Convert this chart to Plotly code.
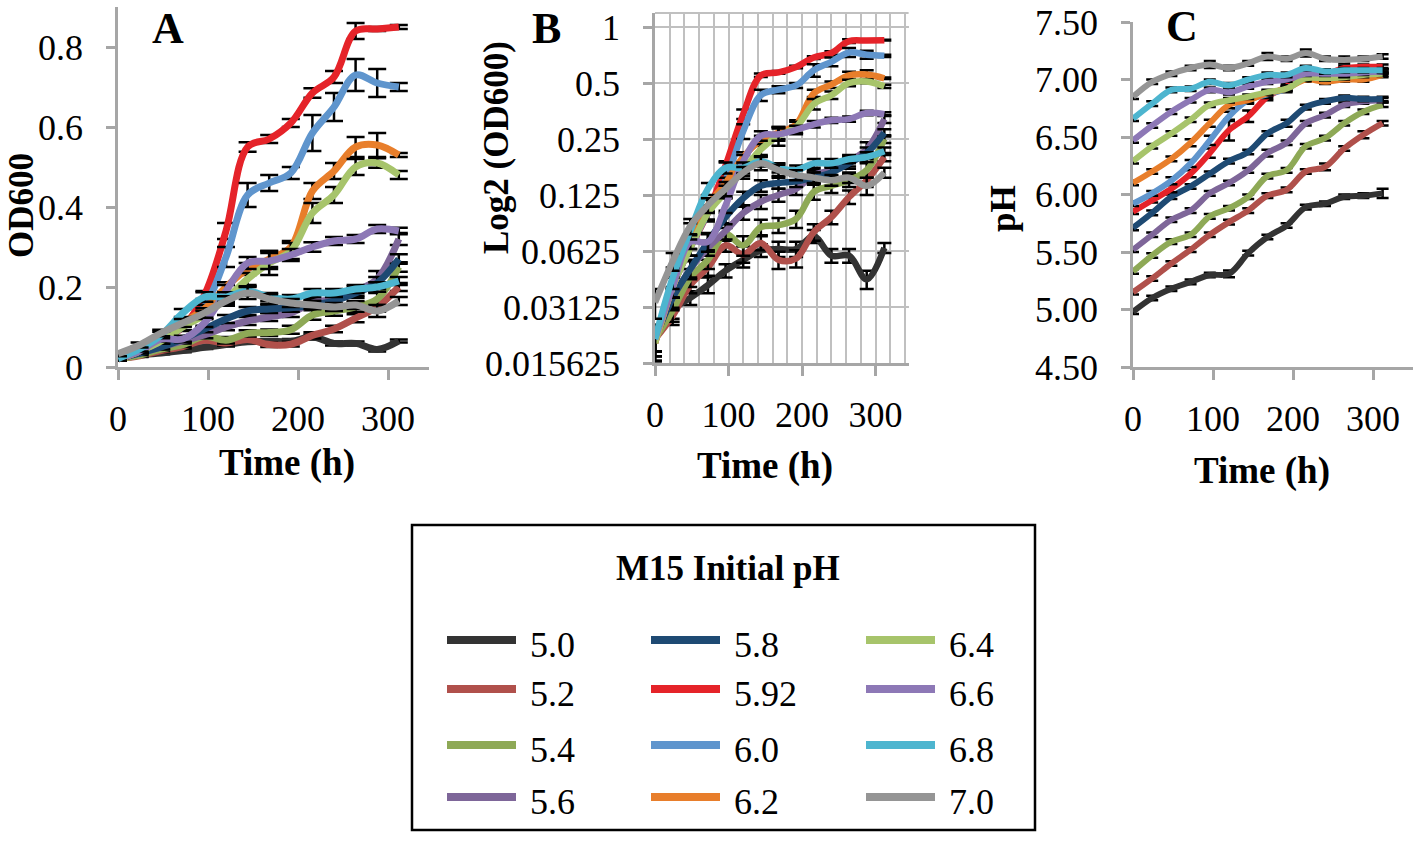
import plotly.graph_objects as go

W, H = 1418, 841

time_h = [0, 24, 48, 72, 96, 120, 144, 168, 192, 216, 240, 264, 288, 312]

ph_labels = ['5.0', '5.2', '5.4', '5.6', '5.8', '5.92', '6.0', '6.2', '6.4', '6.6', '6.8', '7.0']
colors = ['#333333', '#b0504b', '#8ea956', '#7e6699', '#1e4a73', '#e52329',
          '#5f95cd', '#e87e2b', '#a7c46b', '#8d78b6', '#4db5cf', '#959595']

# OD600 per initial pH (panels A and B share these)
od_50 = [0.021, 0.030, 0.035, 0.041, 0.049, 0.056, 0.063, 0.064, 0.064, 0.075, 0.059, 0.059, 0.044, 0.065]
od_52 = [0.021, 0.028, 0.041, 0.051, 0.067, 0.060, 0.069, 0.056, 0.057, 0.079, 0.095, 0.122, 0.150, 0.200]
od_54 = [0.021, 0.030, 0.045, 0.056, 0.077, 0.067, 0.084, 0.086, 0.093, 0.130, 0.140, 0.150, 0.170, 0.250]
od_56 = [0.021, 0.035, 0.050, 0.065, 0.080, 0.100, 0.115, 0.125, 0.135, 0.160, 0.170, 0.190, 0.220, 0.320]
od_58 = [0.021, 0.035, 0.050, 0.070, 0.095, 0.120, 0.140, 0.145, 0.148, 0.155, 0.165, 0.185, 0.210, 0.270]
od_592 = [0.020, 0.040, 0.065, 0.100, 0.180, 0.340, 0.550, 0.570, 0.610, 0.685, 0.725, 0.840, 0.845, 0.850]
od_60 = [0.020, 0.040, 0.065, 0.100, 0.150, 0.275, 0.430, 0.460, 0.485, 0.585, 0.650, 0.730, 0.710, 0.700]
od_62 = [0.020, 0.040, 0.070, 0.110, 0.145, 0.200, 0.245, 0.270, 0.300, 0.440, 0.490, 0.550, 0.555, 0.530]
od_64 = [0.020, 0.040, 0.065, 0.100, 0.130, 0.170, 0.220, 0.260, 0.290, 0.385, 0.430, 0.500, 0.510, 0.480]
od_66 = [0.021, 0.040, 0.070, 0.070, 0.110, 0.190, 0.260, 0.265, 0.280, 0.300, 0.315, 0.320, 0.345, 0.340]
od_68 = [0.021, 0.045, 0.080, 0.135, 0.175, 0.175, 0.190, 0.175, 0.170, 0.185, 0.185, 0.195, 0.200, 0.215]
od_70 = [0.033, 0.055, 0.085, 0.110, 0.135, 0.165, 0.185, 0.170, 0.160, 0.155, 0.150, 0.155, 0.140, 0.165]

od_err_50 = [0.003, 0.003, 0.003, 0.004, 0.004, 0.005, 0.005, 0.006, 0.006, 0.006, 0.005, 0.005, 0.005, 0.004]
od_err_52 = [0.003, 0.003, 0.004, 0.005, 0.005, 0.006, 0.006, 0.006, 0.006, 0.008, 0.008, 0.010, 0.012, 0.010]
od_err_54 = [0.003, 0.004, 0.005, 0.006, 0.006, 0.008, 0.008, 0.008, 0.010, 0.012, 0.012, 0.012, 0.015, 0.012]
od_err_56 = [0.003, 0.004, 0.005, 0.006, 0.008, 0.008, 0.010, 0.010, 0.010, 0.010, 0.012, 0.012, 0.020, 0.015]
od_err_58 = [0.004, 0.005, 0.006, 0.007, 0.008, 0.010, 0.010, 0.010, 0.010, 0.010, 0.012, 0.012, 0.015, 0.012]
od_err_592 = [0.004, 0.005, 0.006, 0.008, 0.010, 0.020, 0.012, 0.010, 0.010, 0.012, 0.015, 0.020, 0.005, 0.005]
od_err_60 = [0.004, 0.005, 0.006, 0.010, 0.012, 0.025, 0.030, 0.020, 0.015, 0.045, 0.035, 0.040, 0.035, 0.010]
od_err_62 = [0.004, 0.005, 0.006, 0.008, 0.010, 0.012, 0.015, 0.020, 0.015, 0.020, 0.020, 0.025, 0.030, 0.005]
od_err_64 = [0.004, 0.005, 0.006, 0.008, 0.010, 0.012, 0.015, 0.030, 0.020, 0.025, 0.020, 0.020, 0.012, 0.010]
od_err_66 = [0.004, 0.005, 0.006, 0.008, 0.010, 0.015, 0.015, 0.020, 0.015, 0.012, 0.010, 0.010, 0.010, 0.008]
od_err_68 = [0.004, 0.006, 0.008, 0.010, 0.012, 0.012, 0.012, 0.010, 0.010, 0.010, 0.010, 0.010, 0.012, 0.010]
od_err_70 = [0.006, 0.006, 0.008, 0.010, 0.012, 0.012, 0.015, 0.012, 0.010, 0.010, 0.010, 0.010, 0.015, 0.010]

# medium pH per initial pH (panel C)
ph_50 = [4.98, 5.10, 5.18, 5.24, 5.30, 5.31, 5.49, 5.63, 5.73, 5.89, 5.92, 5.98, 5.99, 6.01]
ph_52 = [5.15, 5.27, 5.40, 5.52, 5.65, 5.76, 5.86, 5.99, 6.04, 6.20, 6.24, 6.40, 6.52, 6.62]
ph_54 = [5.33, 5.47, 5.59, 5.65, 5.81, 5.88, 5.98, 6.16, 6.21, 6.42, 6.49, 6.62, 6.72, 6.78]
ph_56 = [5.52, 5.65, 5.78, 5.86, 6.01, 6.10, 6.21, 6.36, 6.45, 6.62, 6.69, 6.78, 6.81, 6.82]
ph_58 = [5.71, 5.84, 5.98, 6.07, 6.18, 6.29, 6.37, 6.53, 6.62, 6.76, 6.81, 6.84, 6.83, 6.83]
ph_592 = [5.85, 5.95, 6.05, 6.18, 6.36, 6.56, 6.68, 6.85, 6.94, 7.08, 7.05, 7.10, 7.11, 7.11]
ph_60 = [5.92, 6.01, 6.12, 6.27, 6.47, 6.68, 6.82, 6.87, 6.92, 7.02, 7.02, 7.05, 7.07, 7.07]
ph_62 = [6.10, 6.20, 6.31, 6.45, 6.62, 6.78, 6.82, 6.88, 6.92, 7.00, 6.98, 7.00, 7.00, 7.04]
ph_64 = [6.29, 6.42, 6.53, 6.65, 6.78, 6.82, 6.85, 6.89, 6.92, 7.01, 7.01, 7.02, 7.04, 7.05]
ph_66 = [6.47, 6.60, 6.72, 6.82, 6.91, 6.89, 6.94, 6.98, 7.00, 7.05, 7.05, 7.05, 7.06, 7.07]
ph_68 = [6.66, 6.79, 6.91, 6.92, 6.98, 6.95, 7.00, 7.04, 7.04, 7.10, 7.07, 7.08, 7.08, 7.08]
ph_70 = [6.85, 6.98, 7.05, 7.10, 7.13, 7.10, 7.14, 7.20, 7.18, 7.23, 7.18, 7.17, 7.18, 7.20]

ph_err_50 = [0.02, 0.02, 0.02, 0.02, 0.02, 0.03, 0.02, 0.02, 0.02, 0.02, 0.02, 0.02, 0.02, 0.04]
ph_err_52 = [0.02, 0.02, 0.02, 0.02, 0.02, 0.02, 0.02, 0.02, 0.02, 0.02, 0.03, 0.02, 0.03, 0.02]
ph_err_54 = [0.02, 0.02, 0.02, 0.02, 0.02, 0.02, 0.02, 0.02, 0.02, 0.02, 0.02, 0.02, 0.02, 0.02]
ph_err_56 = [0.02, 0.02, 0.02, 0.02, 0.02, 0.02, 0.02, 0.03, 0.02, 0.02, 0.02, 0.02, 0.02, 0.02]
ph_err_58 = [0.02, 0.02, 0.02, 0.02, 0.02, 0.02, 0.02, 0.02, 0.03, 0.02, 0.02, 0.02, 0.02, 0.02]
ph_err_592 = [0.02, 0.02, 0.03, 0.03, 0.04, 0.09, 0.05, 0.03, 0.03, 0.03, 0.02, 0.02, 0.02, 0.02]
ph_err_60 = [0.02, 0.02, 0.03, 0.03, 0.04, 0.04, 0.03, 0.03, 0.03, 0.02, 0.02, 0.02, 0.02, 0.02]
ph_err_62 = [0.02, 0.02, 0.02, 0.03, 0.03, 0.03, 0.02, 0.02, 0.02, 0.02, 0.02, 0.02, 0.02, 0.02]
ph_err_64 = [0.02, 0.02, 0.02, 0.02, 0.02, 0.02, 0.02, 0.02, 0.02, 0.02, 0.02, 0.02, 0.02, 0.02]
ph_err_66 = [0.02, 0.02, 0.02, 0.02, 0.02, 0.02, 0.02, 0.02, 0.02, 0.02, 0.02, 0.03, 0.02, 0.02]
ph_err_68 = [0.02, 0.02, 0.02, 0.02, 0.02, 0.02, 0.02, 0.02, 0.02, 0.02, 0.02, 0.02, 0.02, 0.02]
ph_err_70 = [0.02, 0.02, 0.02, 0.02, 0.03, 0.02, 0.02, 0.03, 0.02, 0.03, 0.02, 0.03, 0.02, 0.02]

od = [od_50, od_52, od_54, od_56, od_58, od_592, od_60, od_62, od_64, od_66, od_68, od_70]
od_err = [od_err_50, od_err_52, od_err_54, od_err_56, od_err_58, od_err_592,
          od_err_60, od_err_62, od_err_64, od_err_66, od_err_68, od_err_70]
ph = [ph_50, ph_52, ph_54, ph_56, ph_58, ph_592, ph_60, ph_62, ph_64, ph_66, ph_68, ph_70]
ph_err = [ph_err_50, ph_err_52, ph_err_54, ph_err_56, ph_err_58, ph_err_592,
          ph_err_60, ph_err_62, ph_err_64, ph_err_66, ph_err_68, ph_err_70]

log2_ticks = [0.015625, 0.03125, 0.0625, 0.125, 0.25, 0.5, 1]
log2_text = ['0.015625', '0.03125', '0.0625', '0.125', '0.25', '0.5', '1']

SERIF = 'Liberation Serif'
AXC = '#a6a6a6'


def fx(x):
    return x / W


def fy(y):
    return 1 - y / H


fig = go.Figure()

for i, lab in enumerate(ph_labels):
    fig.add_trace(go.Scatter(
        x=time_h, y=od[i], xaxis='x', yaxis='y', mode='lines', name=lab,
        line=dict(color=colors[i], width=7, shape='spline', smoothing=1),
        error_y=dict(type='data', array=od_err[i], color='black', thickness=2.5, width=9),
        showlegend=False))
    fig.add_trace(go.Scatter(
        x=time_h, y=od[i], xaxis='x2', yaxis='y2', mode='lines', name=lab,
        line=dict(color=colors[i], width=6.5, shape='spline', smoothing=1),
        error_y=dict(type='data', array=od_err[i], color='black', thickness=2.5, width=7),
        showlegend=False))
    fig.add_trace(go.Scatter(
        x=time_h, y=ph[i], xaxis='x3', yaxis='y3', mode='lines', name=lab,
        line=dict(color=colors[i], width=6, shape='spline', smoothing=1),
        error_y=dict(type='data', array=ph_err[i], color='black', thickness=2.5, width=6),
        showlegend=False))

tickfont = dict(family=SERIF, size=36, color='black')
base_x = dict(dtick=100, tick0=0, showline=True, linecolor=AXC, linewidth=2.5, ticks='outside',
              ticklen=10, tickwidth=2.5, tickcolor=AXC, tickfont=tickfont, zeroline=False,
              showgrid=False, ticklabelstandoff=8, automargin=False)
base_y = dict(showline=True, linecolor=AXC, linewidth=2.5, ticks='outside', ticklen=9,
              tickwidth=2.5, tickcolor=AXC, tickfont=tickfont, zeroline=False, showgrid=False,
              ticklabelstandoff=16, automargin=False)

fig.update_layout(
    width=W, height=H, margin=dict(l=0, r=0, t=0, b=0, autoexpand=False),
    paper_bgcolor='white', plot_bgcolor='white', showlegend=False,
    xaxis=dict(base_x, domain=[fx(118), fx(428.5)], range=[0, 345], anchor='y'),
    yaxis=dict(base_y, domain=[fy(367), fy(7)], range=[0, 0.9], dtick=0.2, anchor='x'),
    xaxis2=dict(base_x, domain=[fx(655), fx(908.6)], range=[0, 345], anchor='y2',
                showgrid=True, gridcolor='#c0c0c0', gridwidth=2,
                minor=dict(dtick=20, showgrid=True, gridcolor='#c0c0c0', gridwidth=2, ticks='')),
    yaxis2=dict(base_y, domain=[fy(363), fy(13)], type='log',
                range=[-1.80618, 0.0753], tickvals=log2_ticks, ticktext=log2_text,
                showgrid=True, gridcolor='#c0c0c0', gridwidth=2, anchor='x2'),
    xaxis3=dict(base_x, domain=[fx(1133), fx(1413)], range=[0, 350], anchor='y3'),
    yaxis3=dict(base_y, domain=[fy(367), fy(22)], range=[4.5, 7.5], dtick=0.5,
                tickformat='.2f', anchor='x3'),
)

# top border line of panel B grid
fig.add_shape(type='line', xref='x2 domain', yref='y2 domain', x0=0, x1=1, y0=1, y1=1,
              line=dict(color='#c0c0c0', width=2))

ann = []
bold = dict(family=SERIF, size=37, color='black')
for txt, x, y in [('A', 168, 28), ('B', 546, 28), ('C', 1182, 27)]:
    ann.append(dict(text='<b>%s</b>' % txt, x=fx(x), y=fy(y),
                    font=dict(family=SERIF, size=44, color='black')))
for x, y in [(287, 463), (765, 466), (1262, 471)]:
    ann.append(dict(text='<b>Time (h)</b>', x=fx(x), y=fy(y), font=bold))
for txt, x, y in [('OD600', 22, 206), ('Log2 (OD600)', 496, 148), ('pH', 1003, 209)]:
    ann.append(dict(text='<b>%s</b>' % txt, x=fx(x), y=fy(y), textangle=-90,
                    font=dict(family=SERIF, size=35, color='black')))

# legend box
fig.add_shape(type='rect', xref='paper', yref='paper', x0=fx(412), x1=fx(1035),
              y0=fy(830), y1=fy(525), line=dict(color='black', width=2.5))
ann.append(dict(text='<b>M15 Initial pH</b>', x=fx(728), y=fy(568),
                font=dict(family=SERIF, size=35, color='black')))
col_x = [447, 651, 866]
row_y = [640, 689, 745, 797]
for i, lab in enumerate(ph_labels):
    cx = col_x[i // 4]
    ry = row_y[i % 4]
    fig.add_shape(type='line', xref='paper', yref='paper', x0=fx(cx), x1=fx(cx + 69),
                  y0=fy(ry), y1=fy(ry), line=dict(color=colors[i], width=8))
    ann.append(dict(text=lab, x=fx(cx + 81), y=fy(ry + 5), xanchor='left',
                    font=dict(family=SERIF, size=36, color='black')))

for a in ann:
    a.update(xref='paper', yref='paper', showarrow=False)
    a.setdefault('xanchor', 'center')
    a['yanchor'] = 'middle'
fig.update_layout(annotations=ann)

fig.write_html("out.html", config={'displayModeBar': False},
               post_script="document.body.style.margin='0';")
